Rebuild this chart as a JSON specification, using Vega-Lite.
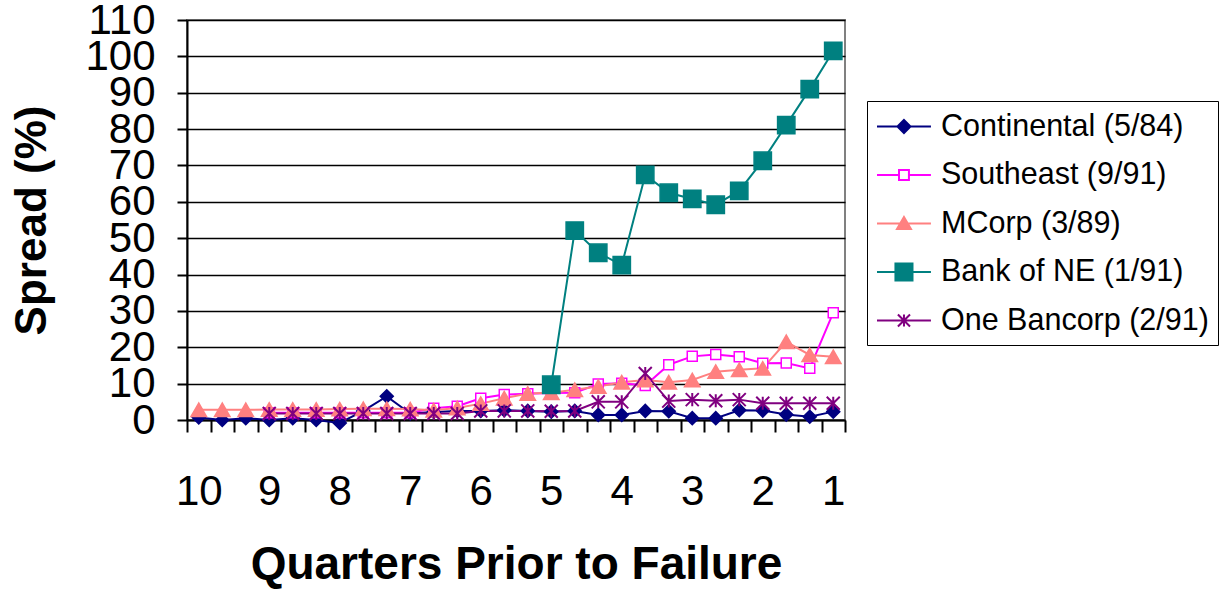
{
  "$schema": "https://vega.github.io/schema/vega-lite/v6.json",
  "width": 658,
  "height": 400,
  "autosize": {"type": "none"},
  "padding": {"left": 187, "top": 20, "right": 377, "bottom": 170},
  "background": "white",
  "config": {
    "font": "Liberation Sans",
    "view": {"stroke": "#808080", "strokeWidth": 2},
    "legend": {
      "orient": "none", "legendX": 680, "legendY": 81, "title": null,
      "labelFontSize": 30.5, "labelColor": "black", "labelLimit": 400,
      "symbolSize": 961, "symbolStrokeWidth": 2, "labelOffset": 32, "rowPadding": 16.5, "padding": 9,
      "strokeColor": "black"
    }
  },
  "data": {"values": [
    {"period":0,"series":"Continental (5/84)","spread":0.7},{"period":1,"series":"Continental (5/84)","spread":0},{"period":2,"series":"Continental (5/84)","spread":0.5},{"period":3,"series":"Continental (5/84)","spread":0},{"period":4,"series":"Continental (5/84)","spread":0.5},{"period":5,"series":"Continental (5/84)","spread":0},{"period":6,"series":"Continental (5/84)","spread":-0.8},{"period":7,"series":"Continental (5/84)","spread":2.5},{"period":8,"series":"Continental (5/84)","spread":6.5},{"period":9,"series":"Continental (5/84)","spread":1.8},{"period":10,"series":"Continental (5/84)","spread":2.2},{"period":11,"series":"Continental (5/84)","spread":2.5},{"period":12,"series":"Continental (5/84)","spread":2.5},{"period":13,"series":"Continental (5/84)","spread":2.7},{"period":14,"series":"Continental (5/84)","spread":2.5},{"period":15,"series":"Continental (5/84)","spread":2.3},{"period":16,"series":"Continental (5/84)","spread":2.5},{"period":17,"series":"Continental (5/84)","spread":1.4},{"period":18,"series":"Continental (5/84)","spread":1.4},{"period":19,"series":"Continental (5/84)","spread":2.5},{"period":20,"series":"Continental (5/84)","spread":2.4},{"period":21,"series":"Continental (5/84)","spread":0.5},{"period":22,"series":"Continental (5/84)","spread":0.5},{"period":23,"series":"Continental (5/84)","spread":2.7},{"period":24,"series":"Continental (5/84)","spread":2.6},{"period":25,"series":"Continental (5/84)","spread":1.5},{"period":26,"series":"Continental (5/84)","spread":0.9},{"period":27,"series":"Continental (5/84)","spread":2.3},
    {"period":3,"series":"Southeast (9/91)","spread":2.0},{"period":4,"series":"Southeast (9/91)","spread":2.0},{"period":5,"series":"Southeast (9/91)","spread":2.0},{"period":6,"series":"Southeast (9/91)","spread":2.0},{"period":7,"series":"Southeast (9/91)","spread":2.0},{"period":8,"series":"Southeast (9/91)","spread":2.0},{"period":9,"series":"Southeast (9/91)","spread":2.0},{"period":10,"series":"Southeast (9/91)","spread":3.2},{"period":11,"series":"Southeast (9/91)","spread":3.8},{"period":12,"series":"Southeast (9/91)","spread":6.0},{"period":13,"series":"Southeast (9/91)","spread":7.0},{"period":14,"series":"Southeast (9/91)","spread":7.2},{"period":15,"series":"Southeast (9/91)","spread":7.4},{"period":16,"series":"Southeast (9/91)","spread":7.5},{"period":17,"series":"Southeast (9/91)","spread":9.9},{"period":18,"series":"Southeast (9/91)","spread":10.1},{"period":19,"series":"Southeast (9/91)","spread":9.5},{"period":20,"series":"Southeast (9/91)","spread":15.2},{"period":21,"series":"Southeast (9/91)","spread":17.5},{"period":22,"series":"Southeast (9/91)","spread":18.0},{"period":23,"series":"Southeast (9/91)","spread":17.4},{"period":24,"series":"Southeast (9/91)","spread":15.6},{"period":25,"series":"Southeast (9/91)","spread":15.7},{"period":26,"series":"Southeast (9/91)","spread":14.2},{"period":27,"series":"Southeast (9/91)","spread":29.5},
    {"period":0,"series":"MCorp (3/89)","spread":2.8},{"period":1,"series":"MCorp (3/89)","spread":2.8},{"period":2,"series":"MCorp (3/89)","spread":2.8},{"period":3,"series":"MCorp (3/89)","spread":2.9},{"period":4,"series":"MCorp (3/89)","spread":2.9},{"period":5,"series":"MCorp (3/89)","spread":2.9},{"period":6,"series":"MCorp (3/89)","spread":3.0},{"period":7,"series":"MCorp (3/89)","spread":3.1},{"period":8,"series":"MCorp (3/89)","spread":3.1},{"period":9,"series":"MCorp (3/89)","spread":3.0},{"period":10,"series":"MCorp (3/89)","spread":2.7},{"period":11,"series":"MCorp (3/89)","spread":3.3},{"period":12,"series":"MCorp (3/89)","spread":4.5},{"period":13,"series":"MCorp (3/89)","spread":6.0},{"period":14,"series":"MCorp (3/89)","spread":7.3},{"period":15,"series":"MCorp (3/89)","spread":7.5},{"period":16,"series":"MCorp (3/89)","spread":8.3},{"period":17,"series":"MCorp (3/89)","spread":9.2},{"period":18,"series":"MCorp (3/89)","spread":10.4},{"period":19,"series":"MCorp (3/89)","spread":11.0},{"period":20,"series":"MCorp (3/89)","spread":10.4},{"period":21,"series":"MCorp (3/89)","spread":11.0},{"period":22,"series":"MCorp (3/89)","spread":13.3},{"period":23,"series":"MCorp (3/89)","spread":13.8},{"period":24,"series":"MCorp (3/89)","spread":14.2},{"period":25,"series":"MCorp (3/89)","spread":21.5},{"period":26,"series":"MCorp (3/89)","spread":17.9},{"period":27,"series":"MCorp (3/89)","spread":17.4},
    {"period":15,"series":"Bank of NE (1/91)","spread":9.7},{"period":16,"series":"Bank of NE (1/91)","spread":52.1},{"period":17,"series":"Bank of NE (1/91)","spread":46.0},{"period":18,"series":"Bank of NE (1/91)","spread":42.6},{"period":19,"series":"Bank of NE (1/91)","spread":67.4},{"period":20,"series":"Bank of NE (1/91)","spread":62.5},{"period":21,"series":"Bank of NE (1/91)","spread":60.8},{"period":22,"series":"Bank of NE (1/91)","spread":59.2},{"period":23,"series":"Bank of NE (1/91)","spread":63.0},{"period":24,"series":"Bank of NE (1/91)","spread":71.3},{"period":25,"series":"Bank of NE (1/91)","spread":81.1},{"period":26,"series":"Bank of NE (1/91)","spread":91.0},{"period":27,"series":"Bank of NE (1/91)","spread":101.5},
    {"period":3,"series":"One Bancorp (2/91)","spread":1.8},{"period":4,"series":"One Bancorp (2/91)","spread":1.8},{"period":5,"series":"One Bancorp (2/91)","spread":1.8},{"period":6,"series":"One Bancorp (2/91)","spread":1.8},{"period":7,"series":"One Bancorp (2/91)","spread":1.8},{"period":8,"series":"One Bancorp (2/91)","spread":1.8},{"period":9,"series":"One Bancorp (2/91)","spread":1.8},{"period":10,"series":"One Bancorp (2/91)","spread":1.8},{"period":11,"series":"One Bancorp (2/91)","spread":1.8},{"period":12,"series":"One Bancorp (2/91)","spread":2.5},{"period":13,"series":"One Bancorp (2/91)","spread":2.5},{"period":14,"series":"One Bancorp (2/91)","spread":2.5},{"period":15,"series":"One Bancorp (2/91)","spread":2.4},{"period":16,"series":"One Bancorp (2/91)","spread":2.5},{"period":17,"series":"One Bancorp (2/91)","spread":5.0},{"period":18,"series":"One Bancorp (2/91)","spread":5.0},{"period":19,"series":"One Bancorp (2/91)","spread":12.8},{"period":20,"series":"One Bancorp (2/91)","spread":5.2},{"period":21,"series":"One Bancorp (2/91)","spread":5.6},{"period":22,"series":"One Bancorp (2/91)","spread":5.3},{"period":23,"series":"One Bancorp (2/91)","spread":5.6},{"period":24,"series":"One Bancorp (2/91)","spread":4.6},{"period":25,"series":"One Bancorp (2/91)","spread":4.6},{"period":26,"series":"One Bancorp (2/91)","spread":4.6},{"period":27,"series":"One Bancorp (2/91)","spread":4.6}
  ]},
  "encoding": {
    "x": {
      "field": "period", "type": "ordinal", "bandPosition": 0.5,
      "scale": {"type": "band", "paddingInner": 0, "paddingOuter": 0},
      "axis": {
        "tickBand": "extent", "labelAngle": 0, "labelOverlap": false,
        "labelExpr": "datum.value % 3 === 0 ? '' + (10 - datum.value / 3) : ''",
        "labelFontSize": 42, "labelPadding": 39, "labelColor": "black",
        "tickSize": 12, "tickWidth": 2, "tickColor": "black",
        "domainColor": "black", "domainWidth": 2, "grid": false,
        "title": "Quarters Prior to Failure", "titleFontSize": 46, "titleFontWeight": "bold",
        "titleColor": "black", "titlePadding": 30
      }
    },
    "y": {
      "field": "spread", "type": "quantitative",
      "scale": {"domain": [0, 110], "nice": false, "zero": false},
      "axis": {
        "values": [0, 10, 20, 30, 40, 50, 60, 70, 80, 90, 100, 110],
        "grid": true, "gridColor": "black", "gridWidth": 1.5,
        "tickSize": 10, "tickWidth": 2, "tickColor": "black",
        "domainColor": "black", "domainWidth": 2,
        "labelFontSize": 42, "labelPadding": 22, "labelColor": "black", "labelOverlap": false,
        "title": "Spread (%)", "titleFontSize": 44, "titleFontWeight": "bold",
        "titleColor": "black", "titlePadding": 30
      }
    },
    "stroke": {
      "field": "series", "type": "nominal",
      "scale": {"domain": ["Continental (5/84)", "Southeast (9/91)", "MCorp (3/89)", "Bank of NE (1/91)", "One Bancorp (2/91)"], "range": ["#000080", "#FF00FF", "#FF8080", "#008080", "#800080"]},
      "legend": {"encode": {"legend": {"strokeWidth": {"value": 2}}}}
    }
  },
  "layer": [
    {
      "mark": {"type": "line", "strokeWidth": 2},
      "encoding": {}
    },
    {
      "mark": {"type": "point", "filled": true, "opacity": 1},
      "encoding": {
        "fill": {
          "field": "series", "type": "nominal",
          "scale": {"domain": ["Continental (5/84)", "Southeast (9/91)", "MCorp (3/89)", "Bank of NE (1/91)", "One Bancorp (2/91)"], "range": ["#000080", "#FFFFFF", "#FF8080", "#008080", "#800080"]},
          "legend": {"encode": {"legend": {"strokeWidth": {"value": 2}}}}
        },
        "shape": {
          "condition": [
            {"test": "datum.series === 'Continental (5/84)'", "value": "diamond"},
            {"test": "datum.series === 'Southeast (9/91)'", "value": "square"},
            {"test": "datum.series === 'MCorp (3/89)'", "value": "triangle-up"},
            {"test": "datum.series === 'Bank of NE (1/91)'", "value": "square"}
          ],
          "value": "M-1,-1L1,1M-1,1L1,-1M0,-1V1"
        },
        "size": {
          "condition": [
            {"test": "datum.series === 'Bank of NE (1/91)'", "value": 300},
            {"test": "datum.series === 'MCorp (3/89)'", "value": 240},
            {"test": "datum.series === 'Southeast (9/91)'", "value": 100},
            {"test": "datum.series === 'One Bancorp (2/91)'", "value": 170}
          ],
          "value": 170
        },
        "strokeWidth": {
          "condition": {"test": "datum.series === 'One Bancorp (2/91)'", "value": 2},
          "value": 1.5
        }
      }
    },
    {
      "transform": [{"filter": "false"}],
      "mark": {"type": "point", "filled": true, "opacity": 1},
      "encoding": {
        "fill": {
          "field": "series", "type": "nominal",
          "scale": {"domain": ["Continental (5/84)", "Southeast (9/91)", "MCorp (3/89)", "Bank of NE (1/91)", "One Bancorp (2/91)"], "range": ["#000080", "#FFFFFF", "#FF8080", "#008080", "#800080"]},
          "legend": {"encode": {"legend": {"strokeWidth": {"value": 2}}}}
        },
        "shape": {
          "field": "series", "type": "nominal",
          "scale": {"domain": ["Continental (5/84)", "Southeast (9/91)", "MCorp (3/89)", "Bank of NE (1/91)", "One Bancorp (2/91)"], "range": [
            "M-1,0H2.48M0.74,-0.42L1.16,0L0.74,0.42L0.32,0Z",
            "M-1,0H0.42M1.06,0H2.48M0.42,-0.32H1.06V0.32H0.42Z",
            "M-1,0H2.48M0.74,-0.42L1.19,0.36L0.29,0.36Z",
            "M-1,0H2.48M0.19,-0.55H1.29V0.55H0.19Z",
            "M-1,0H2.48M0.35,-0.39L1.13,0.39M0.35,0.39L1.13,-0.39M0.74,-0.39V0.39"
          ]},
          "legend": {"encode": {"legend": {"strokeWidth": {"value": 2}}}}
        }
      }
    }
  ]
}
